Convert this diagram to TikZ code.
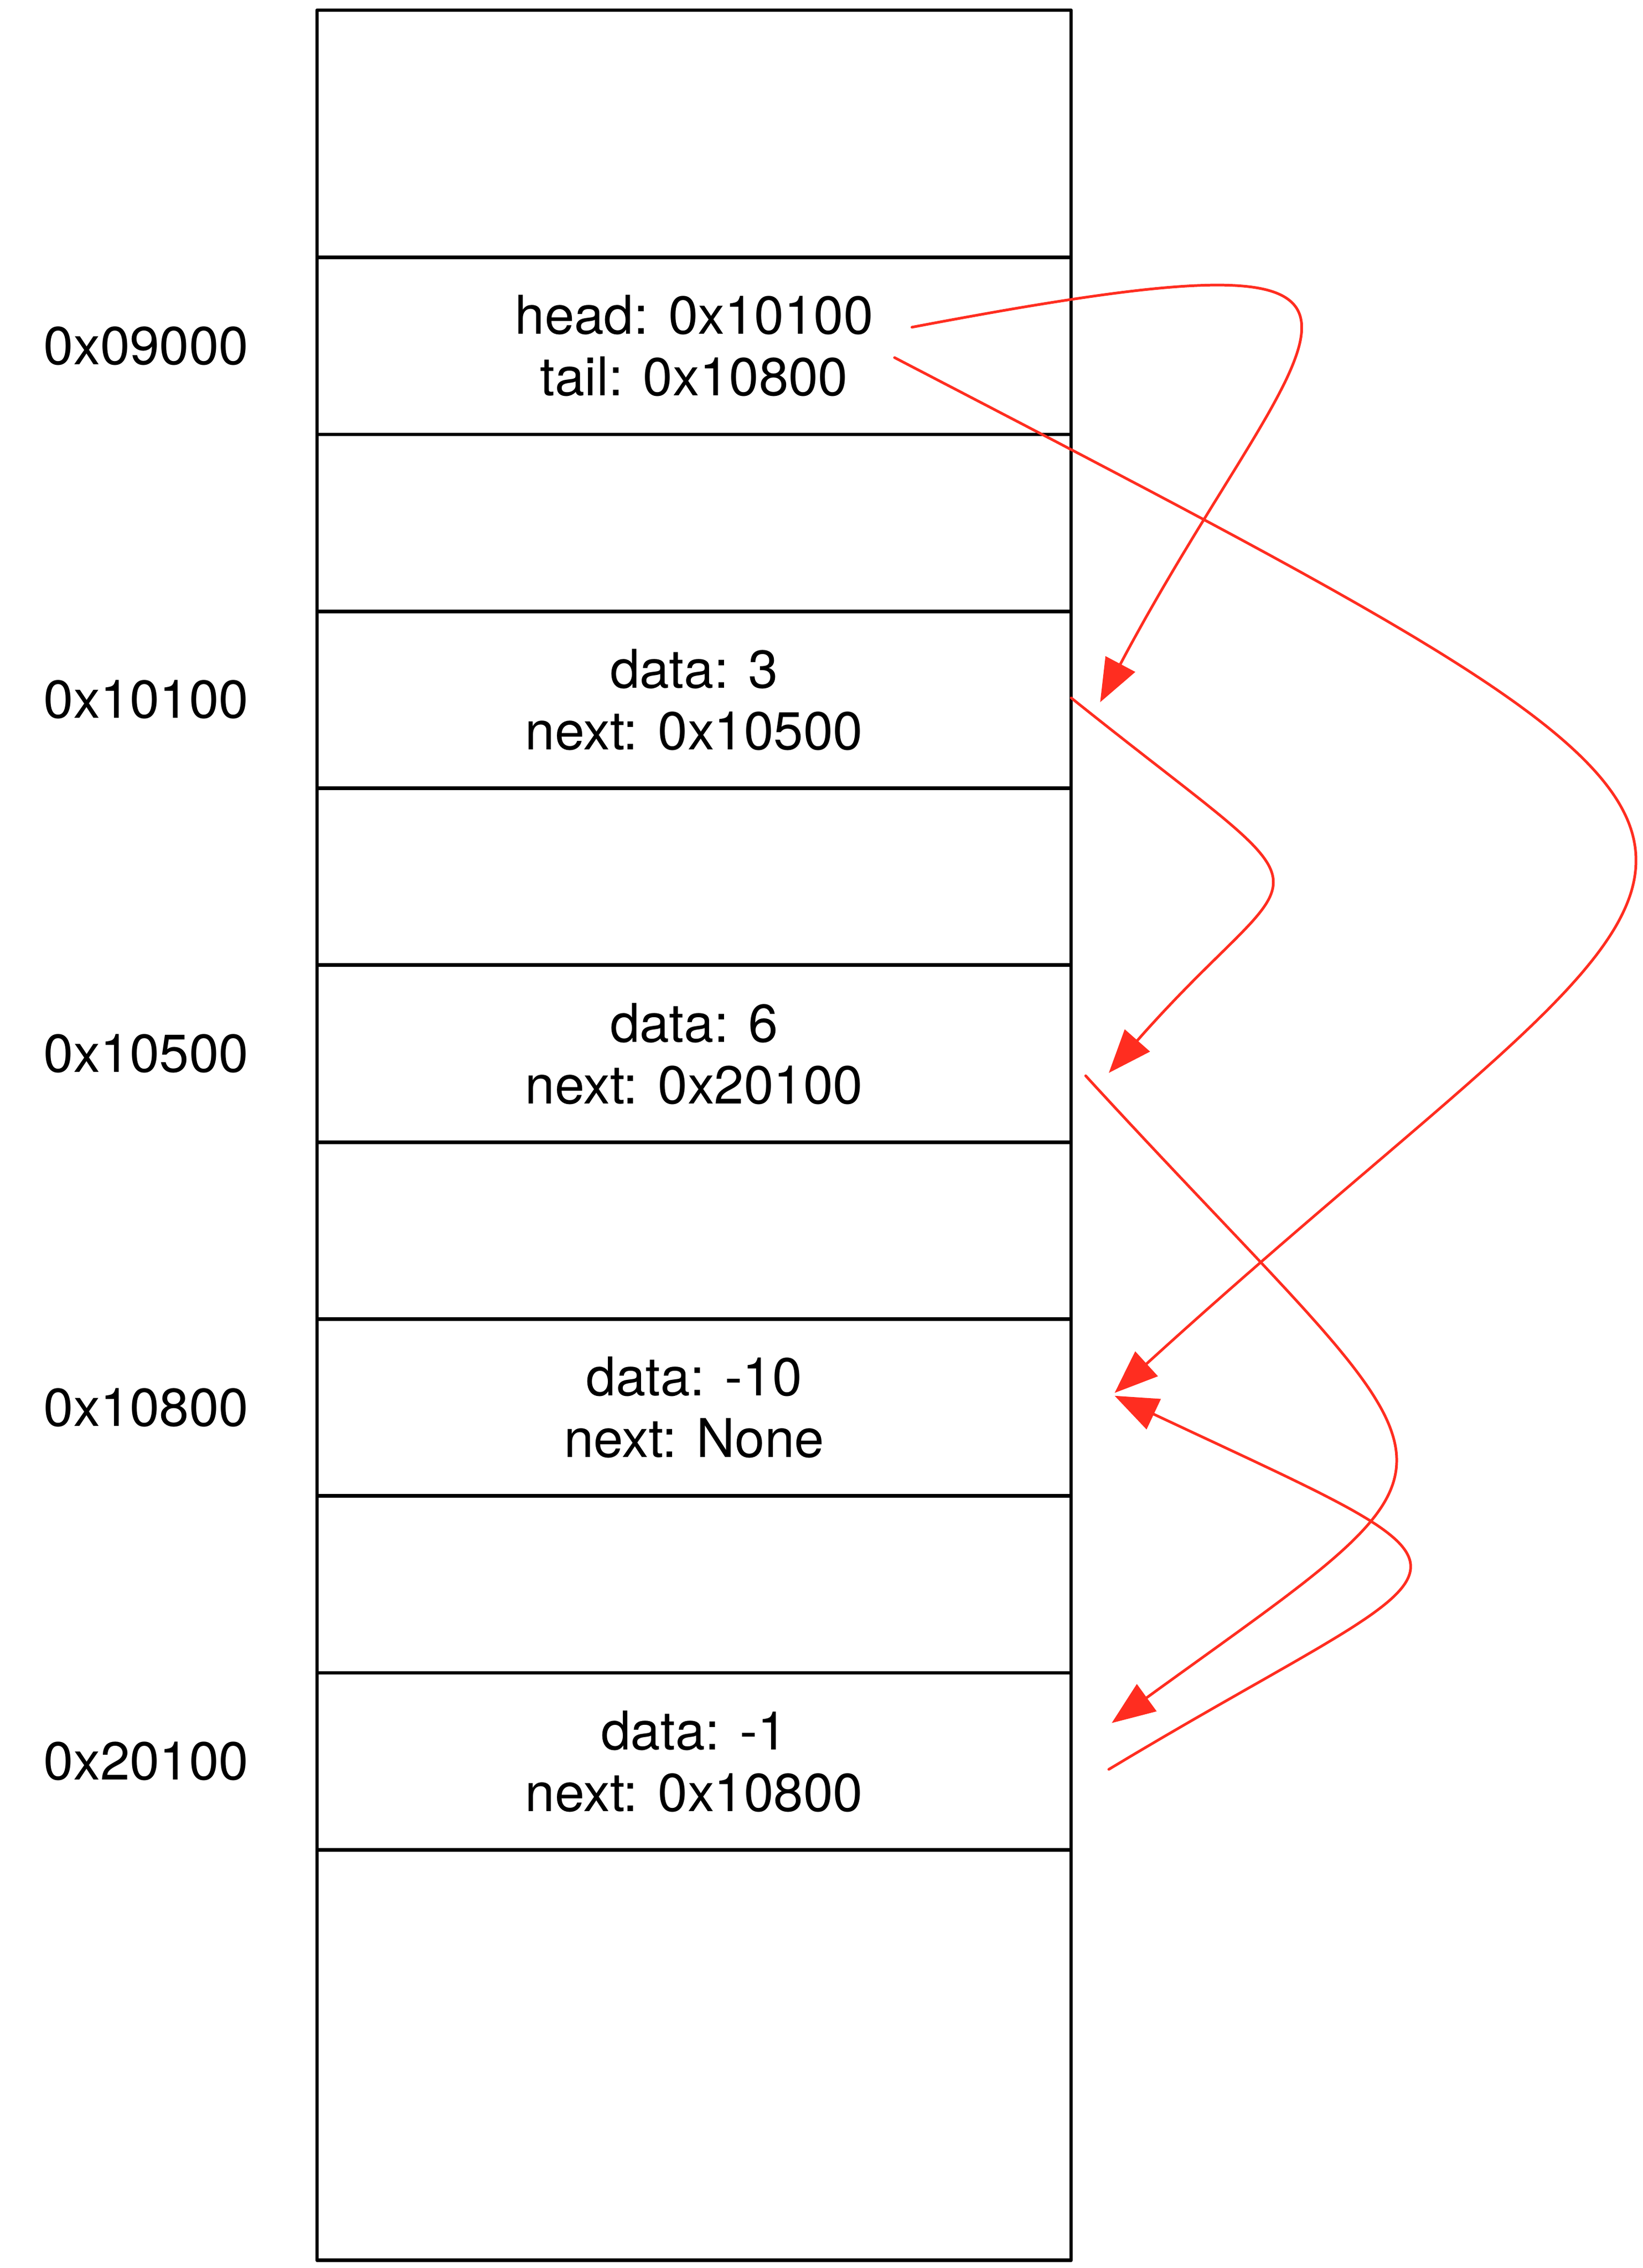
\documentclass[tikz,border=0pt]{standalone}
\usepackage{fontspec}
\setmainfont{TeX Gyre Heros}
\usetikzlibrary{arrows.meta}
\definecolor{ptr}{HTML}{FF2D20}
\begin{document}
\begin{tikzpicture}[x=0.02cm,y=-0.02cm,
  txt/.style={font=\fontsize{21}{24.2}\selectfont},
  cell/.style={txt, draw=black, line width=1.4pt, line join=round, minimum width=10.42cm,
               minimum height=2.444cm, inner sep=0pt, outer sep=0pt, align=center},
  addr/.style={txt, inner sep=0pt},
  ptrline/.style={draw=ptr, line width=1.05pt, line cap=round,
                  -{Triangle[length=17pt,width=13pt]}}]
\useasboundingbox (0,0) rectangle (1135,1566.4);

% memory cells
\node[cell, minimum height=3.416cm] (m0) at (479.5,92.4) {};
\node[cell] (m1) at (479.5,238.9) {head: 0x10100\\tail: 0x10800};
\node[cell] (m2) at (479.5,361.1) {};
\node[cell] (m3) at (479.5,483.3) {data: 3\\next: 0x10500};
\node[cell] (m4) at (479.5,605.5) {};
\node[cell] (m5) at (479.5,727.7) {data: 6\\next: 0x20100};
\node[cell] (m6) at (479.5,849.9) {};
\node[cell] (m7) at (479.5,972.1) {data: -10\\next: None};
\node[cell] (m8) at (479.5,1094.3) {};
\node[cell] (m9) at (479.5,1216.5) {data: -1\\next: 0x10800};
\node[cell, minimum height=5.668cm] (m10) at (479.5,1419.4) {};

% addresses
\node[addr] (l1) at (101,238.9) {0x09000};
\node[addr] (l3) at (101,483.3) {0x10100};
\node[addr] (l5) at (101,727.7) {0x10500};
\node[addr] (l7) at (101,972.1) {0x10800};
\node[addr] (l9) at (101,1216.5) {0x20100};

% pointer ends
\coordinate (hs) at (630,226);
\coordinate (ts) at (618,247);
\coordinate (s3) at (740,482);
\coordinate (s5) at (750,743);
\coordinate (s9) at (766,1222);
\coordinate (e3) at (760,485);
\coordinate (e5) at (766,741);
\coordinate (e7a) at (770,962);
\coordinate (e7b) at (770,964);
\coordinate (e9) at (768,1190);

% pointers
\draw[ptrline] (hs) .. controls (1030,150) and (900,221) .. (e3);
\draw[ptrline] (ts) .. controls (1326,615) and (1217,555) .. (e7a);
\draw[ptrline] (s3) .. controls (932,636) and (905,583) .. (e5);
\draw[ptrline] (s5) .. controls (1017,1034) and (1040,993) .. (e9);
\draw[ptrline] (s9) .. controls (1022,1068) and (1054,1097.5) .. (e7b);
\end{tikzpicture}
\end{document}
